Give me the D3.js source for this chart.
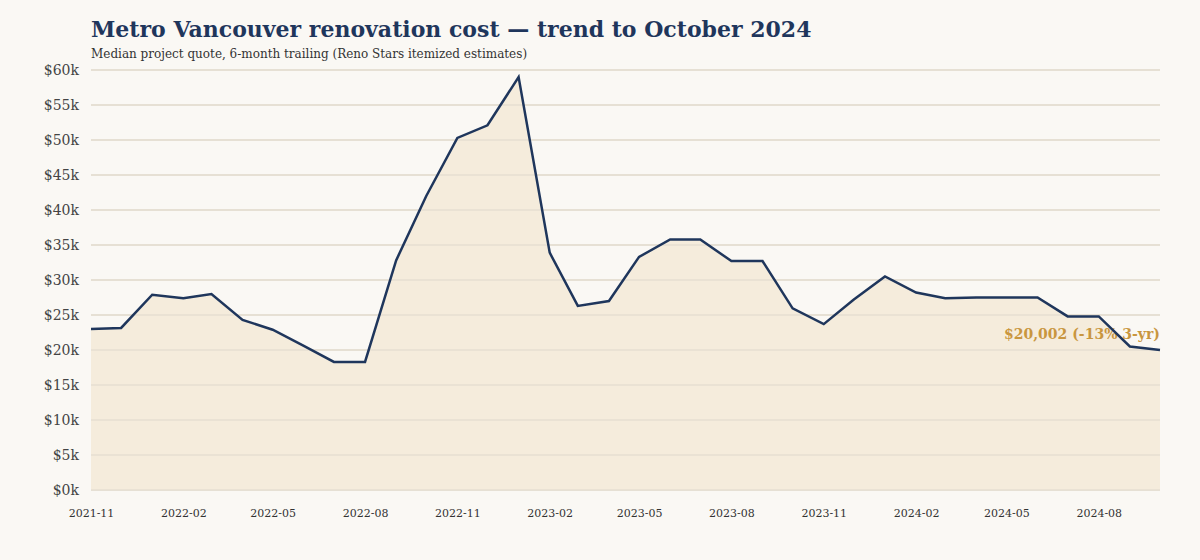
<!DOCTYPE html>
<html>
<head>
<meta charset="utf-8">
<script src="https://cdn.jsdelivr.net/npm/d3@7"></script>
<style>
  body { margin: 0; background: #faf8f4; }
  svg { display: block; font-family: Georgia, "DejaVu Serif", serif; }
</style>
</head>
<body>
<div id="chart"></div>
<script>
// monthly labels, Nov 2021 .. Oct 2024
const months = ["2021-11","2021-12","2022-01","2022-02","2022-03","2022-04","2022-05","2022-06","2022-07","2022-08","2022-09","2022-10",
  "2022-11","2022-12","2023-01","2023-02","2023-03","2023-04","2023-05","2023-06","2023-07","2023-08","2023-09","2023-10",
  "2023-11","2023-12","2024-01","2024-02","2024-03","2024-04","2024-05","2024-06","2024-07","2024-08","2024-09","2024-10"];

// median quote, 6-month trailing ($)
const medianQuote = [23000, 23150, 27900, 27400, 28000, 24300, 22900, 20600, 18300, 18300, 32800, 42000,
  50300, 52100, 59000, 33900, 26300, 27000, 33300, 35800, 35800, 32700, 32700, 25950,
  23700, 27200, 30500, 28200, 27400, 27500, 27500, 27500, 24800, 24800, 20500, 20002];

const yTicks = [0, 5000, 10000, 15000, 20000, 25000, 30000, 35000, 40000, 45000, 50000, 55000, 60000];
const xTickLabels = ["2021-11","2022-02","2022-05","2022-08","2022-11","2023-02","2023-05","2023-08","2023-11","2024-02","2024-05","2024-08"];

const title = "Metro Vancouver renovation cost \u2014 trend to October 2024";
const subtitle = "Median project quote, 6-month trailing (Reno Stars itemized estimates)";
const endNote = "$20,002 (-13% 3-yr)";

const width = 1200, height = 560;
const margin = { top: 70, right: 40, bottom: 70, left: 91 };

const svg = d3.select("#chart").append("svg")
  .attr("width", width)
  .attr("height", height);

svg.append("rect").attr("width", width).attr("height", height).attr("fill", "#faf8f4");

const parse = d3.timeParse("%Y-%m");
const data = months.map((m, i) => ({ date: parse(m), value: medianQuote[i] }));

const x = d3.scaleTime()
  .domain(d3.extent(data, d => d.date))
  .range([margin.left, width - margin.right]);

const y = d3.scaleLinear()
  .domain([0, 60000])
  .range([height - margin.bottom, margin.top]);

// grid
svg.append("g")
  .selectAll("line")
  .data(yTicks)
  .join("line")
  .attr("x1", margin.left)
  .attr("x2", width - margin.right)
  .attr("y1", d => y(d))
  .attr("y2", d => y(d))
  .attr("stroke", "#e4dfd6")
  .attr("stroke-width", 1.5);

// area
svg.append("path")
  .datum(data)
  .attr("fill", "#f5ecdc")
  .attr("d", d3.area().x(d => x(d.date)).y0(y(0)).y1(d => y(d.value)));

// grid again over the area
svg.append("g")
  .selectAll("line")
  .data(yTicks)
  .join("line")
  .attr("x1", margin.left)
  .attr("x2", width - margin.right)
  .attr("y1", d => y(d))
  .attr("y2", d => y(d))
  .attr("stroke", "#e4dcd0")
  .attr("stroke-opacity", 0.8)
  .attr("stroke-width", 1.5);

// y axis labels
const yAxis = svg.append("g")
  .attr("transform", `translate(${margin.left},0)`)
  .call(d3.axisLeft(y).tickValues(yTicks).tickSize(0).tickPadding(12)
    .tickFormat(d => "$" + (d / 1000) + "k"));
yAxis.select(".domain").remove();
yAxis.selectAll("text")
  .attr("font-family", "Georgia, 'DejaVu Serif', serif")
  .attr("font-size", 14)
  .attr("fill", "#444");

// x axis labels
const xAxis = svg.append("g")
  .attr("transform", `translate(0,${height - margin.bottom})`)
  .call(d3.axisBottom(x).tickValues(xTickLabels.map(parse)).tickSize(0).tickPadding(19)
    .tickFormat(d3.timeFormat("%Y-%m")));
xAxis.select(".domain").remove();
xAxis.selectAll("text")
  .attr("font-family", "Georgia, 'DejaVu Serif', serif")
  .attr("font-size", 11)
  .attr("fill", "#333");

// end annotation (under the line)
const last = data[data.length - 1];
svg.append("text")
  .attr("x", x(last.date))
  .attr("y", y(last.value) - 11)
  .attr("text-anchor", "end")
  .attr("font-size", 14)
  .attr("font-weight", "bold")
  .attr("fill", "#c9963f")
  .text(endNote);

// line
svg.append("path")
  .datum(data)
  .attr("fill", "none")
  .attr("stroke", "#1f365c")
  .attr("stroke-width", 2.5)
  .attr("stroke-linejoin", "miter")
  .attr("d", d3.line().x(d => x(d.date)).y(d => y(d.value)));

// titles
svg.append("text")
  .attr("x", margin.left)
  .attr("y", 37)
  .attr("font-size", 22)
  .attr("font-weight", "bold")
  .attr("fill", "#1f365c")
  .text(title);

svg.append("text")
  .attr("x", margin.left)
  .attr("y", 58)
  .attr("font-size", 12)
  .attr("fill", "#333")
  .text(subtitle);
</script>
</body>
</html>
